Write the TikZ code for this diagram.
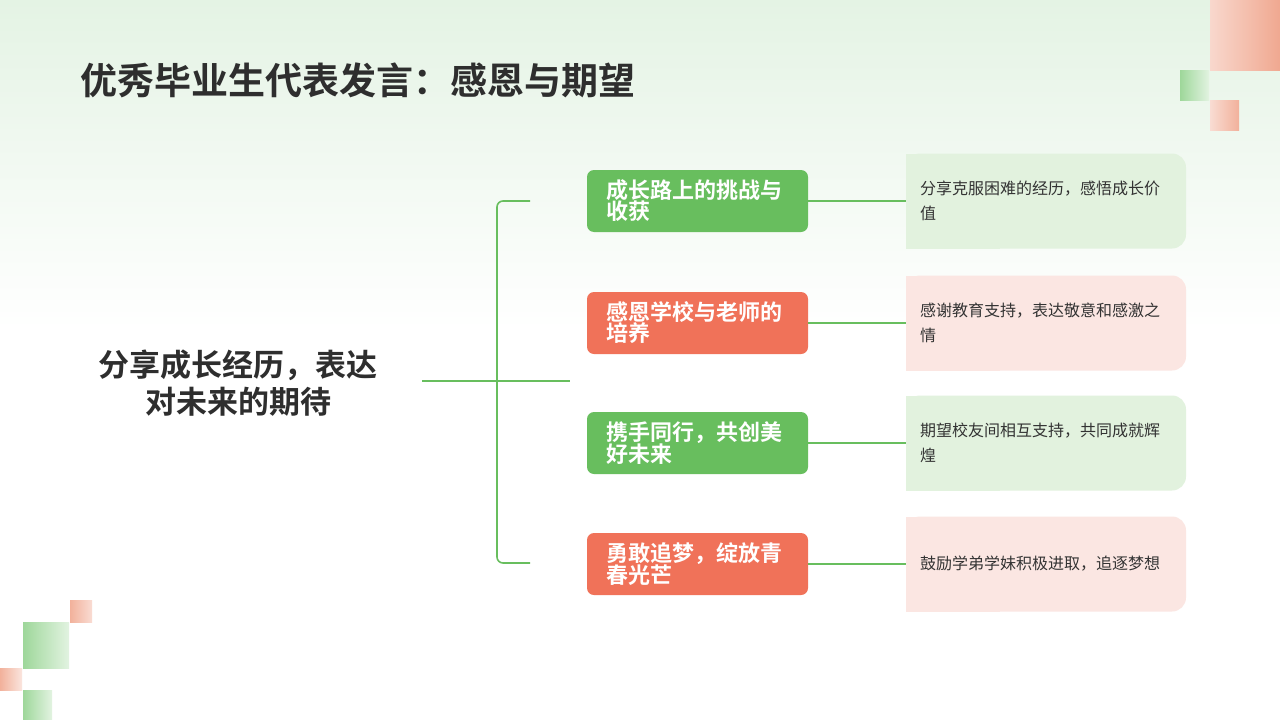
\documentclass[tikz,border=0pt]{standalone}
\usepackage{fontspec}
\setmainfont{Noto Sans CJK SC}
\newfontfamily\cjkb{Noto Sans CJK SC Bold}
\begin{document}
\begin{tikzpicture}[x=1pt,y=-1pt,
  mid/.style={rounded corners=7pt,minimum width=221pt,minimum height=62pt,text width=183pt,align=left,text=white,font=\cjkb\fontsize{22}{21}\selectfont,inner sep=0pt},
  gmid/.style={mid,fill=midgreen},
  rmid/.style={mid,fill=midred},
  desc/.style={minimum width=280pt,minimum height=95pt,text width=252pt,align=left,text=textgray,font=\fontsize{16}{25}\selectfont,inner sep=0pt},
  link/.style={draw=midgreen,line width=1.6pt}]
\definecolor{midgreen}{HTML}{68BE5E}
\definecolor{midred}{HTML}{F07259}
\definecolor{lightgreen}{HTML}{E2F2DE}
\definecolor{lightpink}{HTML}{FBE6E2}
\definecolor{textgray}{HTML}{333333}
\definecolor{bggreen}{HTML}{E4F3E4}
\definecolor{decpink}{HTML}{F0A890}
\definecolor{decgreen}{HTML}{9ED79A}
\useasboundingbox (0,0) rectangle (1280,720);
\fill[white] (0,0) rectangle (1280,720);
\shade[top color=bggreen,bottom color=white] (0,0) rectangle (1280,330);
% decorations
\shade[left color=decpink!45,right color=decpink] (1210,0) rectangle (1280,70);
\shade[left color=decgreen,right color=decgreen!30] (1180,70) rectangle (1209,100);
\shade[left color=decpink!40,right color=decpink!90] (1210,100) rectangle (1239,130);
\shade[left color=decpink!90,right color=decpink!40] (70,600) rectangle (92,622);
\shade[left color=decgreen,right color=decgreen!30] (23,622) rectangle (69,668);
\shade[left color=decpink!90,right color=decpink!30] (0,668) rectangle (22,690);
\shade[left color=decgreen,right color=decgreen!30] (23,690) rectangle (52,720);
% title
\node[anchor=west,font=\cjkb\fontsize{37}{40}\selectfont,text=textgray!90!black,inner sep=0pt] (title) at (80,80) {优秀毕业生代表发言：感恩与期望};
% root
\node[font=\cjkb\fontsize{31}{37}\selectfont,align=center,text=textgray!90!black] (root) at (238,383) {分享成长经历，表达\\对未来的期待};
\coordinate (rs) at (422,381);
\coordinate (re) at (570,381);
\draw[link] (rs) -- (re);
\coordinate (bt) at (530,201);
\coordinate (bb) at (530,563);
\draw[link,rounded corners=6pt] (bt) -- (497,201) -- (497,563) -- (bb);
% mids
\node[gmid] (m1) at (697.5,201) {成长路上的挑战与\\收获};
\node[rmid] (m2) at (697.5,323) {感恩学校与老师的\\培养};
\node[gmid] (m3) at (697.5,443) {携手同行，共创美\\好未来};
\node[rmid] (m4) at (697.5,564) {勇敢追梦，绽放青\\春光芒};
% descs
\foreach \n/\y/\c in {d1/201/lightgreen,d2/323/lightpink,d3/443/lightgreen,d4/564/lightpink}{
  \fill[\c,rounded corners=14pt] (906,\y-47.5) -- (1186,\y-47.5) -- (1186,\y+47.5) -- (906,\y+47.5) -- cycle;
  \fill[\c] (906,\y-47.5) rectangle (1000,\y+47.5);
}
\node[desc] (d1) at (1046,201) {分享克服困难的经历，感悟成长价\\值};
\node[desc] (d2) at (1046,323) {感谢教育支持，表达敬意和感激之\\情};
\node[desc] (d3) at (1046,443) {期望校友间相互支持，共同成就辉\\煌};
\node[desc] (d4) at (1046,564) {鼓励学弟学妹积极进取，追逐梦想};
\foreach \i in {1,...,4}{\draw[link] (m\i.east) -- (d\i.west);}
\end{tikzpicture}
\end{document}
